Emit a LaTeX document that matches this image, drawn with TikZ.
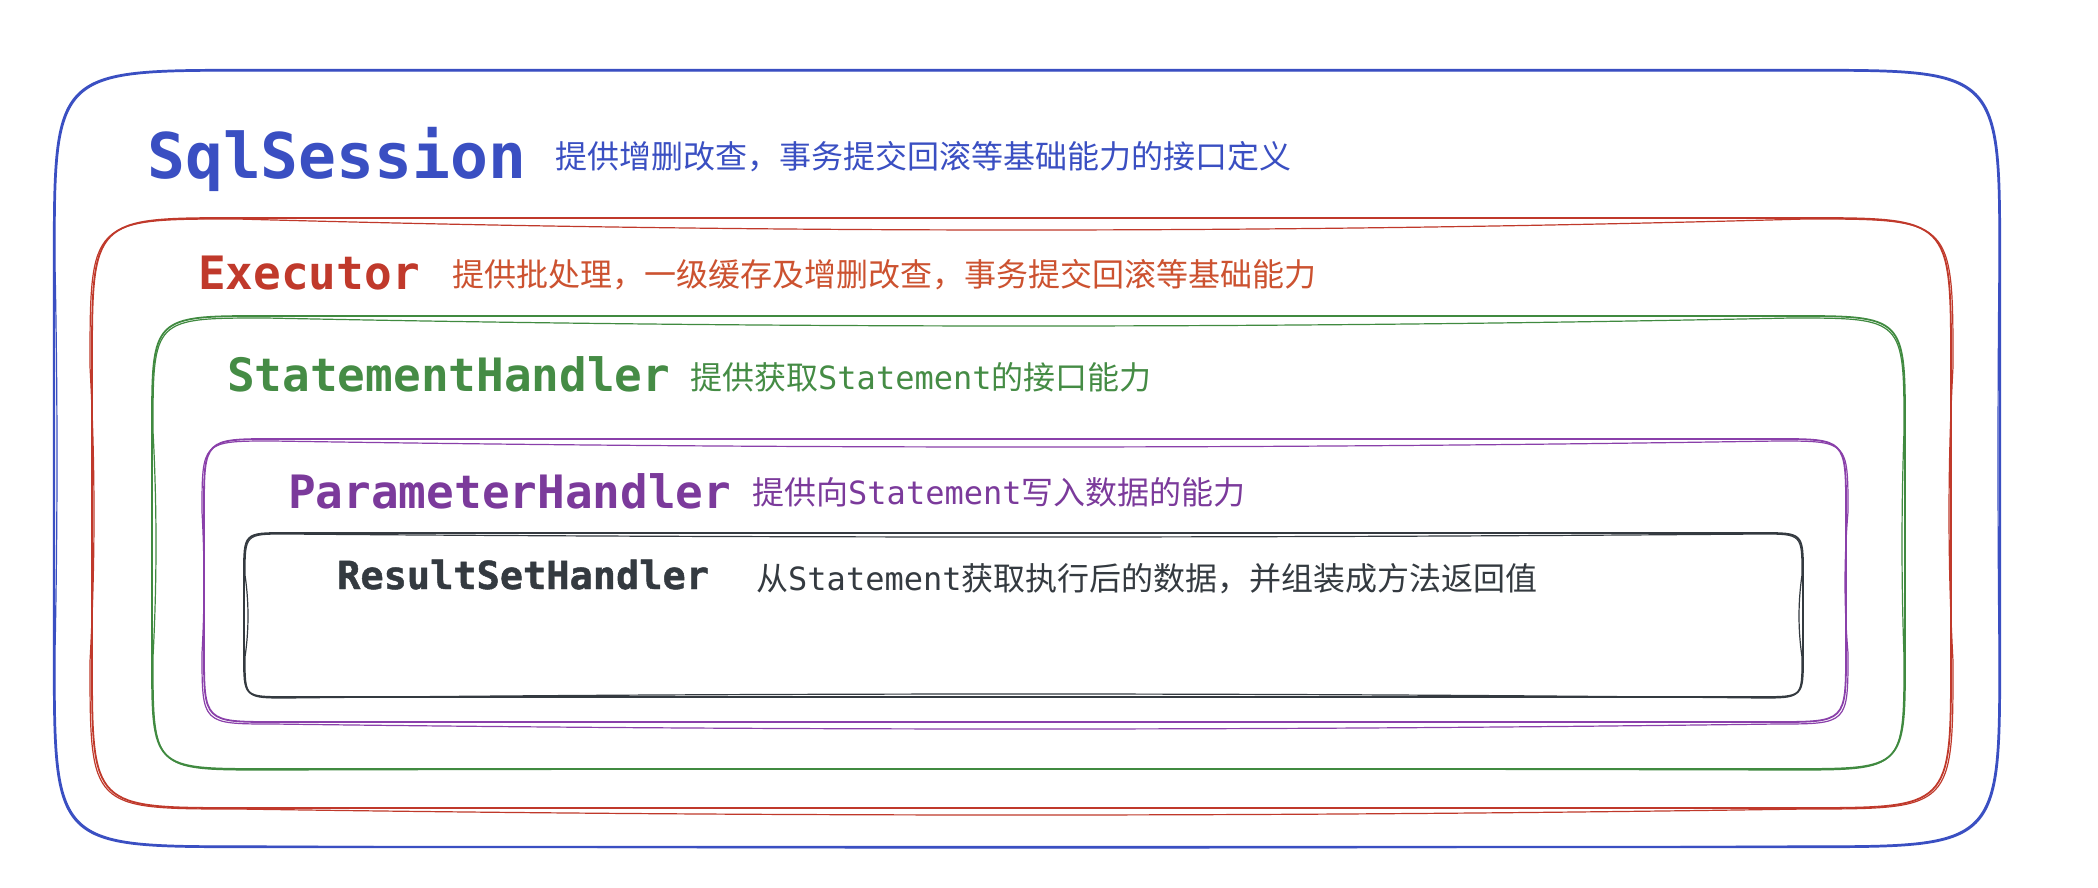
\documentclass[tikz,border=0pt]{standalone}
\usepackage{fontspec}
\newfontfamily\mono{DejaVu Sans Mono}
\newfontfamily\monomed{DejaVu Sans Mono}[FakeBold=1.2]
\newfontfamily\cjk{Noto Sans CJK SC}
\definecolor{cblue}{HTML}{3A4FC2}
\definecolor{cred}{HTML}{C0392B}
\definecolor{credtxt}{HTML}{CC5230}
\definecolor{cgreen}{HTML}{408A40}
\definecolor{cgreentxt}{HTML}{458C45}
\definecolor{cpurple}{HTML}{8A40AA}
\definecolor{cpurpletxt}{HTML}{7B3A9B}
\definecolor{cdark}{HTML}{343A40}
\newcommand\skbox[9]{%
 \pgfmathsetmacro\skR{0.25*min(#4-#2,#5-#3)}%
 \pgfmathsetmacro\skXa{#2+\skR}\pgfmathsetmacro\skXb{#4-\skR}%
 \pgfmathsetmacro\skYa{#3+\skR}\pgfmathsetmacro\skYb{#5-\skR}%
 \pgfmathsetmacro\skXc{\skXa+(\skXb-\skXa)/3}\pgfmathsetmacro\skXd{\skXb-(\skXb-\skXa)/3}%
 \pgfmathsetmacro\skYc{\skYa+(\skYb-\skYa)/3}\pgfmathsetmacro\skYd{\skYb-(\skYb-\skYa)/3}%
 \pgfmathsetmacro\skT{#3+4/3*(#6)}\pgfmathsetmacro\skB{#5+4/3*(#7)}%
 \pgfmathsetmacro\skL{#2+4/3*(#8)}\pgfmathsetmacro\skRr{#4+4/3*(#9)}%
 \draw[#1] (\skXa,#3) .. controls (\skXc,\skT) and (\skXd,\skT) .. (\skXb,#3)
   .. controls (#4,#3) .. (#4,\skYa)
   .. controls (\skRr,\skYc) and (\skRr,\skYd) .. (#4,\skYb)
   .. controls (#4,#5) .. (\skXb,#5)
   .. controls (\skXd,\skB) and (\skXc,\skB) .. (\skXa,#5)
   .. controls (#2,#5) .. (#2,\skYb)
   .. controls (\skL,\skYd) and (\skL,\skYc) .. (#2,\skYa)
   .. controls (#2,#3) .. (\skXa,#3) -- cycle;
}
\tikzset{
  line1/.style={line width=1.8pt, line join=round, line cap=round},
  line2/.style={line width=1.2pt, line join=round, line cap=round},
  title/.style={anchor=base west, inner sep=0pt, font=\mono\bfseries\fontsize{46}{46}\selectfont},
  desc/.style={anchor=base west, inner sep=0pt, font=\cjk\fontsize{32}{32}\selectfont},
}
\begin{document}
\begin{tikzpicture}[x=1pt,y=-1pt]
\useasboundingbox (0,0) rectangle (2098,888);
\fill[white] (0,0) rectangle (2098,888);
% SqlSession box
\skbox{line1,cblue,line width=2.2pt}{54}{70}{2000}{847}{0}{0}{0}{0}
\skbox{line2,cblue}{55}{71}{1999}{846}{0}{2}{2}{-1}
% Executor box
\skbox{line1,cred}{92}{218}{1951}{808}{0}{0}{0}{0}
\skbox{line2,cred}{90}{219}{1953}{809}{11}{6}{4}{-4}
% StatementHandler box
\skbox{line1,cgreen}{152}{316}{1905}{769}{0}{0}{0}{0}
\skbox{line2,cgreen}{153}{318}{1904}{770}{8}{-1}{3}{-2}
% ParameterHandler box
\skbox{line1,cpurple}{204}{439}{1846}{722}{0}{0}{0}{0}
\skbox{line2,cpurple}{202}{441}{1848}{724}{6}{5}{2}{-3}
% ResultSetHandler box
\skbox{line1,cdark}{244}{533}{1803}{697}{0}{0}{0}{0}
\skbox{line2,cdark}{245}{534}{1802}{698}{3}{-4}{3}{-3}

\node[title, text=cblue, font=\mono\bfseries\fontsize{63}{63}\selectfont] (sqlt) at (147,178) {SqlSession};
\node[desc, text=cblue] (sqld) at (555,168) {提供增删改查，事务提交回滚等基础能力的接口定义};

\node[title, text=cred] (exet) at (198,289) {Executor};
\node[desc, text=credtxt] (exed) at (452,286) {提供批处理，一级缓存及增删改查，事务提交回滚等基础能力};

\node[title, text=cgreentxt] (stht) at (227,391) {StatementHandler};
\node[desc, text=cgreentxt] (sthd) at (690,389) {提供获取{\mono Statement}的接口能力};

\node[title, text=cpurpletxt] (part) at (288,508) {ParameterHandler};
\node[desc, text=cpurpletxt] (pard) at (752,504) {提供向{\mono Statement}写入数据的能力};

\node[title, text=cdark, font=\monomed\bfseries\fontsize{38.6}{38.6}\selectfont] (rsht) at (337,589) {ResultSetHandler};
\node[desc, text=cdark] (rshd) at (756,590) {从{\mono Statement}获取执行后的数据，并组装成方法返回值};
\end{tikzpicture}
\end{document}
